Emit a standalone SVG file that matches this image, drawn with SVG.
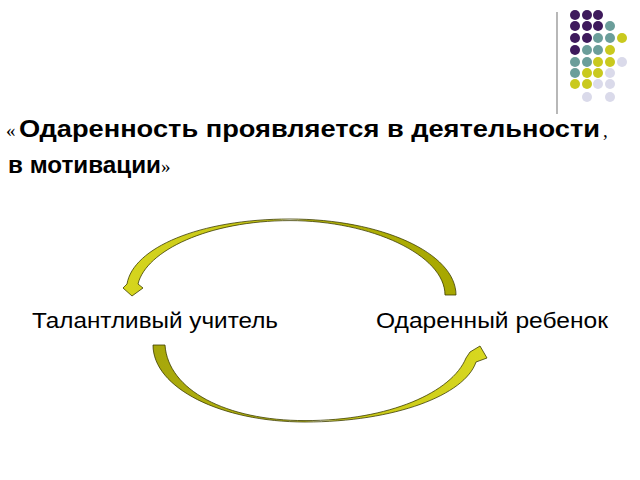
<svg xmlns="http://www.w3.org/2000/svg" width="640" height="480" viewBox="0 0 640 480">
<defs>
<style>
.dp{fill:#3e1a5c}.dt{fill:#6b9e9a}.dy{fill:#c9c91e}.dl{fill:#dadaea}
.title{font-family:"Liberation Sans",Arial,sans-serif;font-weight:bold;font-size:23.5px;fill:#000}
.q{font-family:"Liberation Serif","Times New Roman",serif;font-size:19px;fill:#000}
.lbl{font-family:"Liberation Sans",Arial,sans-serif;font-size:21.5px;fill:#000}
.arc{stroke:#3c3c00;stroke-width:0.8;stroke-linejoin:round}
</style>
<linearGradient id="gTop" x1="120" y1="0" x2="460" y2="0" gradientUnits="userSpaceOnUse">
<stop offset="0" stop-color="#d6d61e"/>
<stop offset="0.45" stop-color="#c2c214"/>
<stop offset="0.5" stop-color="#ffffff"/>
<stop offset="0.55" stop-color="#b4b40a"/>
<stop offset="1" stop-color="#a6a600"/>
</linearGradient>
<linearGradient id="gBot" x1="150" y1="0" x2="490" y2="0" gradientUnits="userSpaceOnUse">
<stop offset="0" stop-color="#a6a60a"/>
<stop offset="0.45" stop-color="#b8b812"/>
<stop offset="0.5" stop-color="#ffffff"/>
<stop offset="0.55" stop-color="#c6c616"/>
<stop offset="1" stop-color="#d8d820"/>
</linearGradient>
</defs>
<rect width="640" height="480" fill="#fff"/>
<g id="decor">
<line x1="557" y1="12" x2="557" y2="114" stroke="#888" stroke-width="1.2"/>
<circle class="dp" cx="575" cy="15" r="5"/><circle class="dp" cx="587" cy="15" r="5"/><circle class="dp" cx="598" cy="15" r="5"/>
<circle class="dp" cx="575" cy="26" r="5"/><circle class="dp" cx="587" cy="26" r="5"/><circle class="dp" cx="598" cy="26" r="5"/><circle class="dt" cx="610" cy="26" r="5"/>
<circle class="dp" cx="575" cy="38" r="5"/><circle class="dp" cx="587" cy="38" r="5"/><circle class="dt" cx="598" cy="38" r="5"/><circle class="dt" cx="610" cy="38" r="5"/><circle class="dy" cx="622" cy="38" r="5"/>
<circle class="dp" cx="575" cy="50" r="5"/><circle class="dt" cx="587" cy="50" r="5"/><circle class="dt" cx="598" cy="50" r="5"/><circle class="dy" cx="610" cy="50" r="5"/>
<circle class="dt" cx="575" cy="62" r="5"/><circle class="dt" cx="587" cy="62" r="5"/><circle class="dy" cx="598" cy="62" r="5"/><circle class="dy" cx="610" cy="62" r="5"/><circle class="dl" cx="622" cy="62" r="5"/>
<circle class="dt" cx="575" cy="73" r="5"/><circle class="dy" cx="587" cy="73" r="5"/><circle class="dy" cx="598" cy="73" r="5"/><circle class="dl" cx="610" cy="73" r="5"/>
<circle class="dy" cx="575" cy="84" r="5"/><circle class="dy" cx="587" cy="84" r="5"/><circle class="dl" cx="598" cy="84" r="5"/><circle class="dl" cx="610" cy="84" r="5"/>
<circle class="dl" cx="587" cy="97" r="5"/><circle class="dl" cx="610" cy="97" r="5"/>
</g>
<g id="title">
<text class="q" x="6" y="137">«</text>
<text class="title" x="19" y="137" textLength="581" lengthAdjust="spacingAndGlyphs">Одаренность проявляется в деятельности</text>
<text class="q" x="603" y="137">,</text>
<text class="title" x="8" y="173" textLength="153" lengthAdjust="spacingAndGlyphs">в мотивации</text>
<text class="q" x="161" y="173">»</text>
</g>
<g id="teacher">
<text class="lbl" x="32" y="327.5" textLength="246" lengthAdjust="spacingAndGlyphs">Талантливый учитель</text>
</g>
<g id="child">
<text class="lbl" x="376" y="328" textLength="232" lengthAdjust="spacingAndGlyphs">Одаренный ребенок</text>
</g>
<g id="connectors">
<path class="arc" fill="url(#gTop)" d="M456 295 C456 253 381 219 290 219 C199 219 133 248 127 284 L123 288 L132 296 L143 288 L138 284 C146 251 208 220.6 290 220.6 C371 220.6 445 255 445 295 Z"/>
<path class="arc" fill="url(#gBot)" d="M153 345 C153 388 221 422 305 422 C395 422 465 395 476 362 L487 358 L480 346 L470 352 L466 358 C452 392 390 420.6 305 420.6 C226 420.6 168 390 165 345 Z"/>
</g>
</svg>
